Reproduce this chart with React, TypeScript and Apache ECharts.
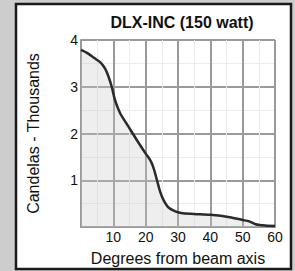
import React, { useEffect, useRef } from "react";
import * as echarts from "echarts";

const TITLE = "DLX-INC (150 watt)";
const X_NAME = "Degrees from beam axis";
const Y_NAME = "Candelas - Thousands";
const degrees = [0, 2, 4, 6, 7.5, 8.5, 9.5, 10.5, 12, 14, 16, 18, 20, 21.5, 22.5, 23.5, 24.5, 25.5, 27, 29, 31, 35, 40, 46, 50, 52, 54, 57, 60];
const candelas = [3.79, 3.72, 3.62, 3.52, 3.38, 3.22, 3.0, 2.72, 2.45, 2.22, 2.0, 1.78, 1.57, 1.42, 1.25, 1.0, 0.75, 0.58, 0.42, 0.34, 0.3, 0.28, 0.26, 0.21, 0.15, 0.12, 0.06, 0.03, 0.02];

export default function App() {
  const ref = useRef<HTMLDivElement>(null);
  useEffect(() => {
    if (!ref.current) return;
    const chart = echarts.init(ref.current, null, { renderer: "svg" });
    const font = "'Liberation Sans', Arial, sans-serif";
    chart.setOption({
      animation: false,
      backgroundColor: "#cdcdcd",
      graphic: [
        {
          type: "rect",
          z: -10,
          shape: { x: 16, y: 4, width: 275, height: 265 },
          style: { fill: "#ffffff", stroke: "#1a1a1a", lineWidth: 2.5 },
        },
      ],
      title: {
        text: TITLE,
        left: 177,
        textAlign: "center",
        top: 9,
        textStyle: { fontFamily: font, fontSize: 16, fontWeight: "bold", color: "#111" },
      },
      grid: { left: 81, top: 40, width: 194, height: 188, containLabel: false },
      xAxis: {
        type: "value",
        min: 0,
        max: 60,
        interval: 10,
        name: X_NAME,
        nameLocation: "middle",
        nameGap: 23,
        nameTextStyle: { fontFamily: font, fontSize: 16, color: "#111" },
        axisLine: { show: true, lineStyle: { color: "#999", width: 2 } },
        axisTick: { show: false },
        axisLabel: {
          fontFamily: font,
          fontSize: 14,
          color: "#111",
          margin: 3,
          formatter: (v: number) => (v === 0 ? "" : String(v)),
        },
        splitLine: { show: true, lineStyle: { color: "#9a9a9a", width: 2 } },
        minorTick: { show: false, splitNumber: 2 },
        minorSplitLine: { show: true, lineStyle: { color: "#ececec", width: 1 } },
      },
      yAxis: {
        type: "value",
        min: 0,
        max: 4,
        interval: 1,
        name: Y_NAME,
        nameLocation: "middle",
        nameGap: 40,
        nameTextStyle: { fontFamily: font, fontSize: 16, color: "#111" },
        axisLine: { show: true, lineStyle: { color: "#999", width: 2 } },
        axisTick: { show: false },
        axisLabel: {
          fontFamily: font,
          fontSize: 14,
          color: "#111",
          margin: 3,
          padding: [0, 0, 6, 0],
          formatter: (v: number) => (v === 0 ? "" : String(v)),
        },
        splitLine: { show: true, lineStyle: { color: "#9a9a9a", width: 2 } },
        minorTick: { show: false, splitNumber: 2 },
        minorSplitLine: { show: true, lineStyle: { color: "#ececec", width: 1 } },
      },
      series: [
        {
          type: "line",
          data: degrees.map((d, i) => [d, candelas[i]]),
          smooth: 0.3,
          symbol: "none",
          lineStyle: { color: "#2a2a2a", width: 2.5 },
          areaStyle: { color: "rgba(200,200,200,0.45)" },
        },
      ],
    });
    return () => chart.dispose();
  }, []);
  return (
    <div style={{ position: "fixed", left: 0, top: 0, width: 295, height: 271, background: "#cdcdcd" }}>
      <div ref={ref} style={{ width: 295, height: 271 }} />
    </div>
  );
}
